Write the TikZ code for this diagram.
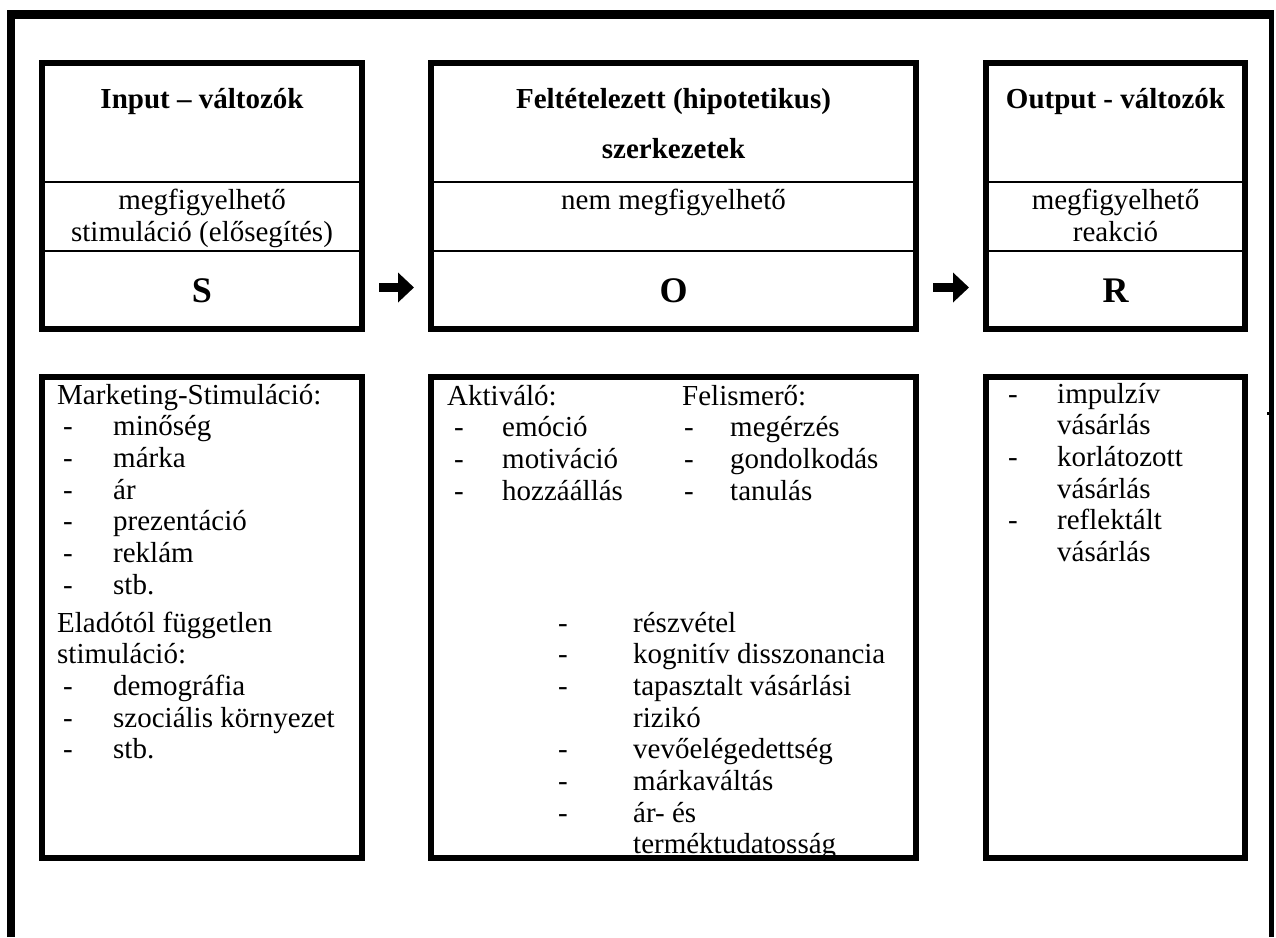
\documentclass[tikz,border=0pt]{standalone}
\usepackage{fontspec}
\setmainfont{Liberation Serif}
\usetikzlibrary{arrows.meta}
\begin{document}
\begin{tikzpicture}[x=1pt,y=-1pt,
  box/.style={draw, line width=5.5pt, outer sep=0pt, inner sep=0pt},
  divider/.style={line width=1.5pt},
  head/.style={font=\fontsize{29}{33}\selectfont\bfseries, anchor=base, inner sep=0pt},
  sub/.style={font=\fontsize{29}{33}\selectfont, anchor=base, inner sep=0pt},
  letter/.style={font=\fontsize{36}{40}\selectfont\bfseries, anchor=base, inner sep=0pt},
  txt/.style={font=\fontsize{29}{32}\selectfont, anchor=base west, inner sep=0pt},
  wing/.style={line width=9pt, -{Triangle[length=16pt,width=29pt]}, shorten <=17pt, shorten >=17pt}
]
\useasboundingbox (0,0) rectangle (1276,937);
\fill[white] (0,0) rectangle (1276,937);

% outer frame, open at the bottom
\draw[line width=8pt] (11,937) -- (11,10);
\draw[line width=9pt] (7,14.5) -- (1274,14.5);
\draw[line width=5pt] (1271.5,10) -- (1271.5,937);
\fill (1267,412) rectangle (1269.5,414.5);

% ---------- upper row: S, O, R ----------
\node[box, minimum width=320pt, minimum height=266pt] (S) at (202,196) {};
\node[box, minimum width=485pt, minimum height=266pt] (O) at (673.5,196) {};
\node[box, minimum width=259pt, minimum height=266pt] (R) at (1115.5,196) {};

\foreach \b in {S,O,R} {
  \draw[divider] ([yshift=14pt]\b.west) -- ([yshift=14pt]\b.east);
  \draw[divider] ([yshift=-55pt]\b.west) -- ([yshift=-55pt]\b.east);
}

\node[head] (Sh) at (202,108) {Input – változók};
\node[sub] (Ss1) at (202,209) {megfigyelhető};
\node[sub] (Ss2) at (202,241) {stimuláció (elősegítés)};
\node[letter] (Sl) at (202,302) {S};

\node[head] (Oh1) at (673.5,108) {Feltételezett (hipotetikus)};
\node[head] (Oh2) at (673.5,158) {szerkezetek};
\node[sub] (Os1) at (673.5,209) {nem megfigyelhető};
\node[letter] (Ol) at (673.5,302) {O};

\node[head] (Rh) at (1115.5,108) {Output - változók};
\node[sub] (Rs1) at (1115.5,209) {megfigyelhető};
\node[sub] (Rs2) at (1115.5,241) {reakció};
\node[letter] (Rl) at (1115.5,302) {R};

% arrows between the stages
\draw[wing] ([yshift=-91.5pt]S.east) -- ([yshift=-91.5pt]O.west);
\draw[wing] ([yshift=-91.5pt]O.east) -- ([yshift=-91.5pt]R.west);

% ---------- lower row: lists ----------
\node[box, minimum width=320pt, minimum height=481pt] (Sb) at (202,617.5) {};
\node[box, minimum width=485pt, minimum height=481pt] (Ob) at (673.5,617.5) {};
\node[box, minimum width=259pt, minimum height=481pt] (Rb) at (1115.5,617.5) {};

% input variables
\node[txt] (sm) at (57,404) {Marketing-Stimuláció:};
\foreach \w [count=\i] in {minőség,márka,ár,prezentáció,reklám,stb.} {
  \node[txt] (smd\i) at (63,{404+31.7*\i}) {-};
  \node[txt] (smi\i) at (113,{404+31.7*\i}) {\w};
}
\node[txt] (se1) at (57,632) {Eladótól független};
\node[txt] (se2) at (57,663.7) {stimuláció:};
\foreach \w [count=\i] in {demográfia,szociális környezet,stb.} {
  \node[txt] (sed\i) at (63,{663.7+31.7*\i}) {-};
  \node[txt] (sei\i) at (113,{663.7+31.7*\i}) {\w};
}

% hypothetical constructs
\node[txt] (oa) at (447,405) {Aktiváló:};
\foreach \w [count=\i] in {emóció,motiváció,hozzáállás} {
  \node[txt] (oad\i) at (454,{405+31.7*\i}) {-};
  \node[txt] (oai\i) at (502,{405+31.7*\i}) {\w};
}
\node[txt] (of) at (682,405) {Felismerő:};
\foreach \w [count=\i] in {megérzés,gondolkodás,tanulás} {
  \node[txt] (ofd\i) at (684,{405+31.7*\i}) {-};
  \node[txt] (ofi\i) at (730,{405+31.7*\i}) {\w};
}
\foreach \w/\d [count=\i] in {részvétel/1,kognitív disszonancia/1,tapasztalt vásárlási/1,rizikó/0,vevőelégedettség/1,márkaváltás/1,ár- és/1,terméktudatosság/0} {
  \node[txt] (ol\i) at (633,{632+31.7*(\i-1)}) {\w};
  \ifnum\d=1 \node[txt] (old\i) at (558,{632+31.7*(\i-1)}) {-}; \fi
}

% output variables
\foreach \w/\d [count=\i] in {impulzív/1,vásárlás/0,korlátozott/1,vásárlás/0,reflektált/1,vásárlás/0} {
  \node[txt] (rl\i) at (1057,{403+31.7*(\i-1)}) {\w};
  \ifnum\d=1 \node[txt] (rld\i) at (1008,{403+31.7*(\i-1)}) {-}; \fi
}
\end{tikzpicture}
\end{document}
